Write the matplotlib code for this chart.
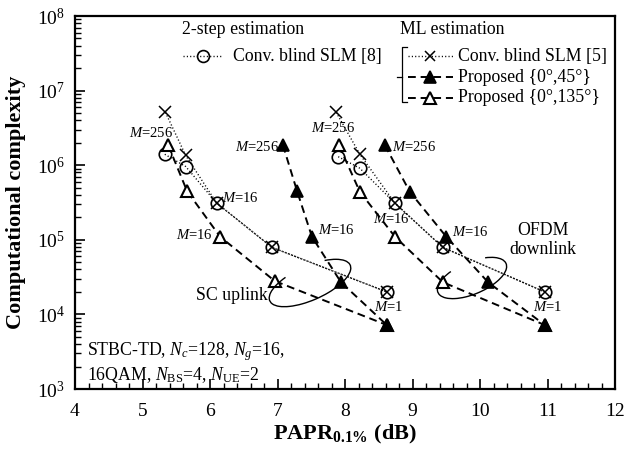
import numpy as np
import matplotlib
matplotlib.use("Agg")
import matplotlib.pyplot as plt
from matplotlib.lines import Line2D
from matplotlib.patches import Arc
from matplotlib.transforms import Affine2D
from matplotlib.ticker import MultipleLocator, LogLocator, NullFormatter

plt.rcParams['font.family'] = ['Liberation Serif', 'DejaVu Serif']
plt.rcParams['mathtext.fontset'] = 'custom'
plt.rcParams['mathtext.rm'] = 'Liberation Serif'
plt.rcParams['mathtext.it'] = 'Liberation Serif:italic'
plt.rcParams['mathtext.bf'] = 'Liberation Serif:bold'

# ---------------- data ----------------
m_values = [256, 64, 16, 4, 1]
# SC uplink
sc_conv8_x = [5.33, 5.64, 6.10, 6.92, 8.62]
sc_conv8_y = [1.4e6, 9.6e5, 3.1e5, 7.9e4, 2.0e4]
sc_conv5_x = [5.34, 5.64, 6.10, 6.92, 8.62]
sc_conv5_y = [5.1e6, 1.35e6, 3.1e5, 7.9e4, 2.0e4]
sc_p45_x = [7.08, 7.29, 7.51, 7.94, 8.62]
sc_p45_y = [1.86e6, 4.5e5, 1.1e5, 2.7e4, 7.2e3]
sc_p135_x = [5.38, 5.66, 6.15, 6.96, 8.62]
sc_p135_y = [1.86e6, 4.5e5, 1.1e5, 2.8e4, 7.2e3]
# OFDM downlink
of_conv8_x = [7.90, 8.22, 8.74, 9.45, 10.96]
of_conv8_y = [1.3e6, 9.1e5, 3.1e5, 7.9e4, 2.0e4]
of_conv5_x = [7.87, 8.22, 8.74, 9.45, 10.96]
of_conv5_y = [5.1e6, 1.4e6, 3.1e5, 7.9e4, 2.0e4]
of_p45_x = [8.59, 8.96, 9.50, 10.12, 10.96]
of_p45_y = [1.86e6, 4.4e5, 1.1e5, 2.7e4, 7.2e3]
of_p135_x = [7.91, 8.22, 8.74, 9.45, 10.96]
of_p135_y = [1.86e6, 4.4e5, 1.1e5, 2.7e4, 7.2e3]

W, H = 629, 449
fig = plt.figure(figsize=(W / 100, H / 100), dpi=100)
L, R, T, B = 75, 615, 16, 389
ax = fig.add_axes([L / W, 1 - B / H, (R - L) / W, (B - T) / H])

PX = Affine2D().scale(1 / W, -1 / H).translate(0, 1) + fig.transFigure

dot = (0, (0.8, 1.6))
dash = (0, (4, 2.5))
st_conv8 = dict(color='black', linestyle=dot, linewidth=1.0, marker='o', markersize=9,
                markerfacecolor='none', markeredgewidth=1.2)
st_conv5 = dict(color='black', linestyle=dot, linewidth=1.0, marker='x', markersize=8,
                markeredgewidth=1.1)
st_p45 = dict(color='black', linestyle=dash, linewidth=1.4, marker='^', markersize=9,
              markerfacecolor='black', markeredgewidth=1.2)
st_p135 = dict(color='black', linestyle=dash, linewidth=1.4, marker='^', markersize=9,
               markerfacecolor='white', markeredgewidth=1.5)

for xs, ys in [(sc_conv8_x, sc_conv8_y), (of_conv8_x, of_conv8_y)]:
    ax.plot(xs, ys, zorder=3, **st_conv8)
for xs, ys in [(sc_conv5_x, sc_conv5_y), (of_conv5_x, of_conv5_y)]:
    ax.plot(xs, ys, zorder=4, **st_conv5)
for xs, ys in [(sc_p135_x, sc_p135_y), (of_p135_x, of_p135_y)]:
    ax.plot(xs, ys, zorder=5, **st_p135)
for xs, ys in [(sc_p45_x, sc_p45_y), (of_p45_x, of_p45_y)]:
    ax.plot(xs, ys, zorder=6, **st_p45)

ax.set_xlim(4, 12)
ax.set_yscale('log')
ax.set_ylim(1e3, 1e8)
ax.xaxis.set_major_locator(MultipleLocator(1))
ax.xaxis.set_minor_locator(MultipleLocator(0.2))
ax.yaxis.set_major_locator(LogLocator(base=10, numticks=10))
ax.yaxis.set_minor_locator(LogLocator(base=10, subs=np.arange(2, 10), numticks=20))
ax.yaxis.set_minor_formatter(NullFormatter())
ax.tick_params(which='both', direction='in', labelsize=14)
ax.tick_params(which='major', length=7, width=1.2)
ax.tick_params(which='minor', length=4, width=1.0)
ax.tick_params(axis='x', which='major', pad=10)
ax.tick_params(axis='y', which='major', pad=7)
for s in ax.spines.values():
    s.set_linewidth(1.6)

ax.set_xlabel(r'$\mathbf{PAPR}_{\mathbf{0.1\%}}$ (dB)', fontsize=16, fontweight='bold', labelpad=2)
ax.set_ylabel('Computational complexity', fontsize=16, fontweight='bold', labelpad=8)

# M annotations
fs_m = 10.5
def mlab(x, logy, s, ha):
    ax.text(x, 10 ** logy, r'$M$=' + s, fontsize=fs_m, ha=ha, va='center', zorder=8)

mlab(5.13, 6.43, '256', 'center')
mlab(7.02, 6.25, '256', 'right')
mlab(6.18, 5.56, '16', 'left')
mlab(6.04, 5.06, '16', 'right')
mlab(7.60, 5.13, '16', 'left')
mlab(8.64, 4.10, '1', 'center')
mlab(7.82, 6.50, '256', 'center')
mlab(8.70, 6.25, '256', 'left')
mlab(8.68, 5.28, '16', 'center')
mlab(9.59, 5.10, '16', 'left')
mlab(11.0, 4.10, '1', 'center')

fs = 12.8
# region labels and loops
fig.text(232 / W, 1 - 295 / H, 'SC uplink', fontsize=fs, ha='center', va='center')
fig.text(543 / W, 1 - 240 / H, 'OFDM\ndownlink', fontsize=fs, ha='center', va='center',
         multialignment='center', linespacing=1.1)
fig.add_artist(Arc((310, 283), 88, 34, angle=-24, theta1=327, theta2=577,
                   transform=PX, color='black', linewidth=1.0))
fig.add_artist(Arc((472, 278), 74, 32, angle=-23, theta1=326, theta2=580,
                   transform=PX, color='black', linewidth=1.0))

# condition text
fig.text(87 / W, 1 - 352 / H, r'STBC-TD, $N_c$=128, $N_g$=16,', fontsize=fs, ha='left', va='center')
fig.text(87 / W, 1 - 375 / H, r'16QAM, $N_{\rm BS}$=4, $N_{\rm UE}$=2', fontsize=fs, ha='left', va='center')

# legend (manual)
def leg_line(x0, x1, xm, y, st):
    st = dict(st)
    fig.add_artist(Line2D([x0, x1], [y, y], transform=PX,
                          color=st['color'], linestyle=st['linestyle'], linewidth=st['linewidth']))
    fig.add_artist(Line2D([xm], [y], transform=PX, linestyle='none', marker=st['marker'],
                          markersize=st['markersize'] * 0.95, color='black',
                          markerfacecolor=st.get('markerfacecolor', 'black'),
                          markeredgewidth=st['markeredgewidth']))

fig.text(182 / W, 1 - 30 / H, '2-step estimation', fontsize=fs, ha='left', va='center')
leg_line(183, 223, 203, 56, st_conv8)
fig.text(233 / W, 1 - 56 / H, 'Conv. blind SLM [8]', fontsize=fs, ha='left', va='center')

fig.text(400 / W, 1 - 30 / H, 'ML estimation', fontsize=fs, ha='left', va='center')
leg_line(408, 453, 430, 56, st_conv5)
fig.text(458 / W, 1 - 56 / H, 'Conv. blind SLM [5]', fontsize=fs, ha='left', va='center')
leg_line(408, 453, 430, 77, st_p45)
fig.text(458 / W, 1 - 77 / H, 'Proposed {0°,45°}', fontsize=fs, ha='left', va='center')
leg_line(408, 453, 430, 98, st_p135)
fig.text(458 / W, 1 - 98 / H, 'Proposed {0°,135°}', fontsize=fs, ha='left', va='center')

# bracket
fig.add_artist(Line2D([407, 402, 402, 407], [47, 47, 102, 102], transform=PX,
                      color='black', linewidth=0.9))
fig.add_artist(Line2D([397, 402], [77, 77], transform=PX, color='black', linewidth=0.9))

fig.savefig('out.png', dpi=100)
